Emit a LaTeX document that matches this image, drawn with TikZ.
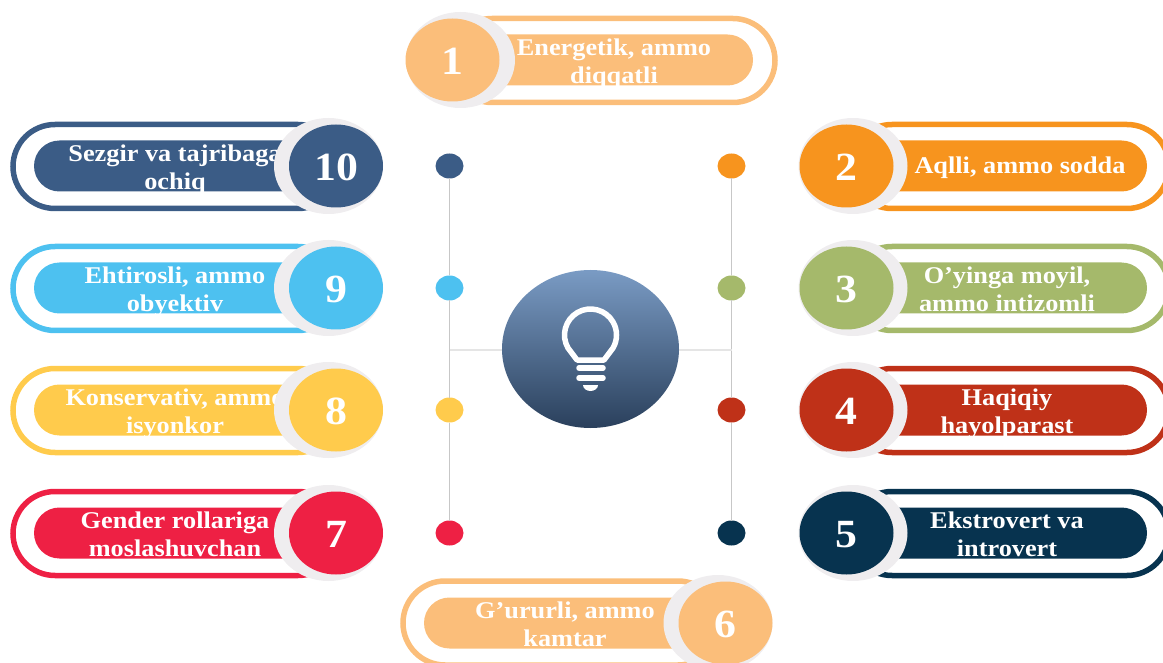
\documentclass[tikz,border=0pt]{standalone}
\usepackage{fontspec}
\setmainfont{Liberation Serif}[FakeStretch=1.095]
\usetikzlibrary{shapes.geometric,shapes.misc}
\definecolor{cnavy}{HTML}{3B5C86}
\definecolor{csky}{HTML}{4DC1F0}
\definecolor{cyellow}{HTML}{FFCB4C}
\definecolor{cred}{HTML}{EE2044}
\definecolor{cpeach}{HTML}{FBBE7A}
\definecolor{corange}{HTML}{F7941E}
\definecolor{cgreen}{HTML}{A5B96B}
\definecolor{cbrick}{HTML}{BF3118}
\definecolor{cdeep}{HTML}{07334F}
\definecolor{cring}{HTML}{EFEDEF}
\definecolor{hubtop}{HTML}{7A9BC4}
\definecolor{hubmid}{HTML}{3D5F8A}
\definecolor{hubbot}{HTML}{2A405C}
\tikzset{
  outerpill/.style={draw=#1,line width=5.5pt,rounded rectangle,minimum height=84pt,inner sep=0pt,outer sep=0pt},
  innerpill/.style={fill=#1,rounded rectangle,minimum height=51pt,inner sep=0pt,outer sep=0pt},
  ring/.style={fill=cring,ellipse,minimum width=109pt,minimum height=96pt,inner sep=0pt},
  numdisc/.style={fill=#1,ellipse,minimum width=94pt,minimum height=83pt,inner sep=0pt,text=white,text height=29pt,font=\fontsize{40}{40}\selectfont\bfseries},
  dot/.style={fill=#1,ellipse,minimum width=28pt,minimum height=25pt,inner sep=0pt,outer sep=0pt},
  caption/.style={text=white,align=center,inner sep=0pt,font=\fontsize{24}{28}\selectfont\bfseries},
  vline/.style={draw=black!22,line width=1pt},
  hline/.style={draw=black!10,line width=1pt},
  bulb/.style={draw=white,line width=5.5pt,line join=round,line cap=round}
}
\begin{document}
\begin{tikzpicture}[x=1pt,y=-1pt]
\clip (0,0) rectangle (1163,663);
\node[dot=cnavy] (d10) at (449.5,166) {};
\node[dot=csky] (d9) at (449.5,288) {};
\node[dot=cyellow] (d8) at (449.5,410) {};
\node[dot=cred] (d7) at (449.5,533) {};
\node[dot=corange] (d2) at (731.5,166) {};
\node[dot=cgreen] (d3) at (731.5,288) {};
\node[dot=cbrick] (d4) at (731.5,410) {};
\node[dot=cdeep] (d5) at (731.5,533) {};
\draw[vline] (d10) -- (d9);
\draw[vline] (d9) -- (d8);
\draw[vline] (d8) -- (d7);
\draw[vline] (d2) -- (d3);
\draw[vline] (d3) -- (d4);
\draw[vline] (d4) -- (d5);
\coordinate (hl) at (449.5,350);
\coordinate (hr) at (731.5,350);
\draw[hline] (hl) -- (hr);
\node[ellipse,minimum width=177pt,minimum height=158pt,inner sep=0pt,top color=hubtop,middle color=hubmid,bottom color=hubbot] (hub) at (590.5,349) {};
\draw[bulb] (568,348) arc[start angle=210,end angle=-30,radius=26pt] -- (604,360) -- (577,360) -- cycle;
\draw[bulb] (579,368) -- (603,368);
\draw[bulb] (579,378) -- (603,378);
\fill[white] (583,385) arc[start angle=180,end angle=360,x radius=7.5pt,y radius=6pt] -- cycle;
% top and bottom
\node[outerpill=cpeach,minimum width=325pt] (o1) at (612.5,60.5) {};
\node[innerpill=cpeach,minimum width=303pt] (i1) at (601.5,60) {};
\node[caption] (t1) at (614,63.5) {\strut Energetik, ammo\\\strut diqqatli};
\node[ring] (r1) at (460.5,60) {};
\node[numdisc=cpeach] (n1) at (452.5,60) {1};
\node[outerpill=cpeach,minimum width=317pt] (o6) at (561.5,623) {};
\node[innerpill=cpeach,minimum width=296pt] (i6) at (572,623) {};
\node[caption] (t6) at (565,626.5) {\strut G’ururli, ammo\\\strut kamtar};
\node[ring] (r6) at (718,623) {};
\node[numdisc=cpeach] (n6) at (725.5,623) {6};
% left column
\node[outerpill=cnavy,minimum width=327pt] (o10) at (176.5,166.5) {};
\node[innerpill=cnavy,minimum width=296pt] (i10) at (182,166) {};
\node[caption] (t10) at (175,169.5) {\strut Sezgir va tajribaga\\\strut ochiq};
\node[ring] (r10) at (328.5,166) {};
\node[numdisc=cnavy] (n10) at (336,166) {10};
\node[outerpill=csky,minimum width=327pt] (o9) at (176.5,288.5) {};
\node[innerpill=csky,minimum width=296pt] (i9) at (182,288) {};
\node[caption] (t9) at (175,291.5) {\strut Ehtirosli, ammo\\\strut obyektiv};
\node[ring] (r9) at (328.5,288) {};
\node[numdisc=csky] (n9) at (336,288) {9};
\node[outerpill=cyellow,minimum width=327pt] (o8) at (176.5,410.5) {};
\node[innerpill=cyellow,minimum width=296pt] (i8) at (182,410) {};
\node[caption] (t8) at (175,413.5) {\strut Konservativ, ammo\\\strut isyonkor};
\node[ring] (r8) at (328.5,410) {};
\node[numdisc=cyellow] (n8) at (336,410) {8};
\node[outerpill=cred,minimum width=327pt] (o7) at (176.5,533.5) {};
\node[innerpill=cred,minimum width=296pt] (i7) at (182,533) {};
\node[caption] (t7) at (175,536.5) {\strut Gender rollariga\\\strut moslashuvchan};
\node[ring] (r7) at (328.5,533) {};
\node[numdisc=cred] (n7) at (336,533) {7};
% right column
\node[outerpill=corange,minimum width=319pt] (o2) at (1009.5,166.5) {};
\node[innerpill=corange,minimum width=297pt] (i2) at (998.5,166) {};
\node[caption] (t2) at (1020,168) {\strut Aqlli, ammo sodda};
\node[ring] (r2) at (853,166) {};
\node[numdisc=corange] (n2) at (846.5,166) {2};
\node[outerpill=cgreen,minimum width=319pt] (o3) at (1009.5,288.5) {};
\node[innerpill=cgreen,minimum width=297pt] (i3) at (998.5,288) {};
\node[caption] (t3) at (1007,291.5) {\strut O’yinga moyil,\\\strut ammo intizomli};
\node[ring] (r3) at (853,288) {};
\node[numdisc=cgreen] (n3) at (846.5,288) {3};
\node[outerpill=cbrick,minimum width=319pt] (o4) at (1009.5,410.5) {};
\node[innerpill=cbrick,minimum width=297pt] (i4) at (998.5,410) {};
\node[caption] (t4) at (1007,413.5) {\strut Haqiqiy\\\strut hayolparast};
\node[ring] (r4) at (853,410) {};
\node[numdisc=cbrick] (n4) at (846.5,410) {4};
\node[outerpill=cdeep,minimum width=319pt] (o5) at (1009.5,533.5) {};
\node[innerpill=cdeep,minimum width=297pt] (i5) at (998.5,533) {};
\node[caption] (t5) at (1007,536.5) {\strut Ekstrovert va\\\strut introvert};
\node[ring] (r5) at (853,533) {};
\node[numdisc=cdeep] (n5) at (846.5,533) {5};
\end{tikzpicture}
\end{document}
